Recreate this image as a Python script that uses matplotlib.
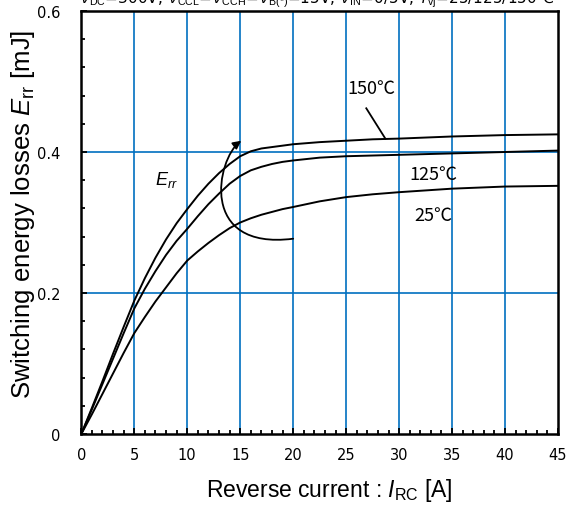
import numpy as np
import matplotlib
matplotlib.use('Agg')
import matplotlib.pyplot as plt
from matplotlib.ticker import MultipleLocator, FuncFormatter
from matplotlib.patches import FancyArrowPatch
from matplotlib.path import Path

# reverse current [A]
current = [0, 1, 2, 3, 4, 5, 6, 7, 8, 9, 10, 11, 12, 13, 14, 15, 16, 17, 18, 19, 20,
           22.5, 25, 27.5, 30, 35, 40, 45]
# switching energy losses Err [mJ]
err_150 = [0, 0.037, 0.075, 0.114, 0.152, 0.189, 0.221, 0.250, 0.276, 0.299, 0.319,
           0.338, 0.355, 0.370, 0.383, 0.394, 0.401, 0.405, 0.407, 0.409, 0.411,
           0.414, 0.416, 0.418, 0.419, 0.422, 0.424, 0.425]
err_125 = [0, 0.035, 0.071, 0.107, 0.143, 0.178, 0.206, 0.231, 0.254, 0.274, 0.291,
           0.309, 0.326, 0.341, 0.355, 0.366, 0.374, 0.379, 0.383, 0.386, 0.388,
           0.392, 0.394, 0.395, 0.396, 0.398, 0.400, 0.402]
err_25 = [0, 0.028, 0.057, 0.086, 0.115, 0.143, 0.166, 0.188, 0.208, 0.228, 0.246,
          0.259, 0.271, 0.282, 0.292, 0.300, 0.306, 0.311, 0.315, 0.319, 0.322,
          0.330, 0.336, 0.340, 0.343, 0.348, 0.351, 0.352]

x_ticks = [0, 5, 10, 15, 20, 25, 30, 35, 40, 45]
y_ticks = [0, 0.2, 0.4, 0.6]

grid_blue = '#0070C0'
lab_font = 'Liberation Sans'
plt.rcParams['mathtext.fontset'] = 'custom'
plt.rcParams['mathtext.rm'] = lab_font
plt.rcParams['mathtext.it'] = lab_font + ':italic'

fig = plt.figure(figsize=(5.82, 5.06), dpi=100)
ax = fig.add_axes([0.1397, 0.1403, 0.8191, 0.8360])

for v in x_ticks[1:-1]:
    ax.axvline(v, color=grid_blue, lw=1.2, zorder=1)
for v in y_ticks[1:-1]:
    ax.axhline(v, color=grid_blue, lw=1.2, zorder=1)

for e in (err_150, err_125, err_25):
    ax.plot(current, e, color='black', lw=1.4, zorder=3)

ax.set_xlim(0, 45)
ax.set_ylim(0, 0.6)
ax.xaxis.set_major_locator(MultipleLocator(5))
ax.xaxis.set_minor_locator(MultipleLocator(1))
ax.yaxis.set_major_locator(MultipleLocator(0.2))
ax.yaxis.set_minor_locator(MultipleLocator(0.04))
ax.yaxis.set_major_formatter(FuncFormatter(lambda v, p: '0' if v == 0 else '%.1f' % v))
ax.tick_params(which='both', direction='in', top=False, right=False,
               width=1.3, labelsize=10.5)
ax.tick_params(axis='x', pad=9)
ax.tick_params(axis='y', pad=15)
ax.tick_params(which='major', length=4)
ax.tick_params(which='minor', length=3)
for s in ax.spines.values():
    s.set_linewidth(1.8)

ax.set_xlabel(r'Reverse current : $I_{\rm RC}$ [A]', fontsize=16.5, family=lab_font)
ax.set_ylabel(r'Switching energy losses $E_{\rm rr}$ [mJ]', fontsize=18.5, family=lab_font)
ax.xaxis.set_label_coords(0.52, -0.1)
ax.yaxis.set_label_coords(-0.092, 0.522)

ax.text(27.4, 0.491, '150℃', fontsize=13, ha='center', va='center', family='Noto Sans CJK JP')
ax.plot([26.9, 28.7], [0.462, 0.419], color='black', lw=1.3)
ax.text(33.2, 0.369, '125℃', fontsize=13, ha='center', va='center', family='Noto Sans CJK JP')
ax.text(33.2, 0.310, '25℃', fontsize=13, ha='center', va='center', family='Noto Sans CJK JP')
ax.text(8.05, 0.362, r'$E_{rr}$', fontsize=13, ha='center', va='center')

arc = Path([(20.0, 0.277), (11.0, 0.26), (12.8, 0.39), (15.1, 0.416)],
           [Path.MOVETO, Path.CURVE4, Path.CURVE4, Path.CURVE4])
ax.add_patch(FancyArrowPatch(path=arc, arrowstyle='-|>', mutation_scale=12,
                             color='black', lw=1.3, zorder=4))

fig.text(0.135, 1 - 4 / 506,
         r'$V_{\rm DC}$=300V, $V_{\rm CCL}$=$V_{\rm CCH}$=$V_{\rm B(*)}$=15V, $V_{\rm IN}$=0/5V, $T_{\rm vj}$=25/125/150℃',
         fontsize=11, va='baseline', family=['DejaVu Sans', 'Noto Sans CJK JP'])

fig.savefig('out.png', dpi=100)
